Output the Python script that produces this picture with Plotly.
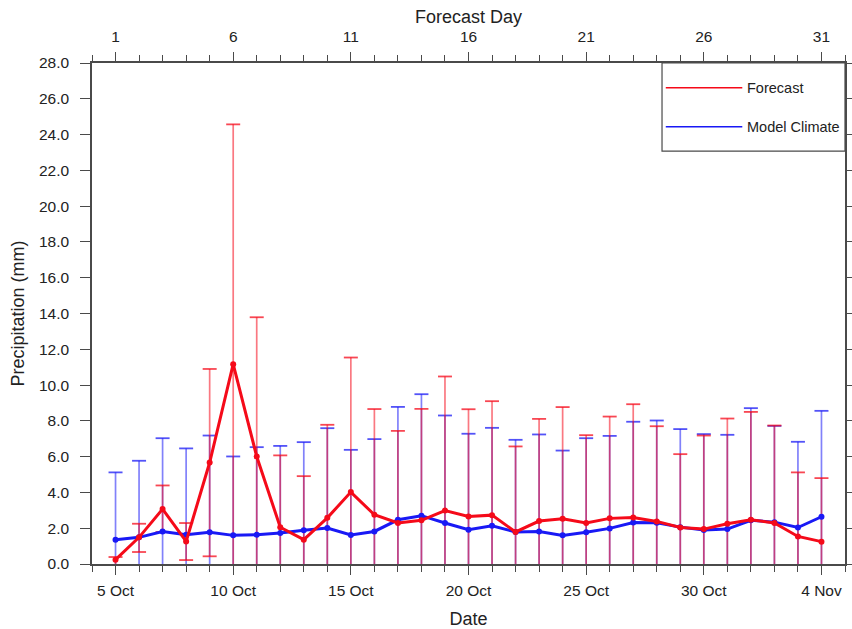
import plotly.graph_objects as go

# Forecast day index (1 = 5 Oct)
days = list(range(1, 32))

# Axis tick labels
date_ticks = [1, 6, 11, 16, 21, 26, 31]
date_labels = ["5 Oct", "10 Oct", "15 Oct", "20 Oct", "25 Oct", "30 Oct", "4 Nov"]
fday_labels = ["1", "6", "11", "16", "21", "26", "31"]
y_ticks = [0, 2, 4, 6, 8, 10, 12, 14, 16, 18, 20, 22, 24, 26, 28]

# Forecast ensemble: mean, max, min (mm)
fc_mean = [0.24, 1.49, 3.07, 1.26, 5.67, 11.17, 6.01, 2.05, 1.36, 2.58,
           4.02, 2.75, 2.29, 2.44, 2.99, 2.66, 2.73, 1.79, 2.40, 2.53,
           2.29, 2.55, 2.60, 2.38, 2.04, 1.95, 2.25, 2.47, 2.29, 1.54, 1.25]
fc_max = [0.39, 2.25, 4.39, 2.29, 10.90, 24.57, 13.79, 6.07, 4.91, 7.78,
          11.54, 8.66, 7.44, 8.67, 10.48, 8.65, 9.10, 6.57, 8.11, 8.77,
          7.20, 8.24, 8.93, 7.70, 6.14, 7.18, 8.13, 8.50, 7.74, 5.12, 4.80]
fc_min = [0.00, 0.67, 1.79, 0.22, 0.43, 0.00, 0.00, 0.00, 0.00, 0.00,
          0.00, 0.00, 0.00, 0.00, 0.00, 0.00, 0.00, 0.00, 0.00, 0.00,
          0.00, 0.00, 0.00, 0.00, 0.00, 0.00, 0.00, 0.00, 0.00, 0.00, 0.00]

# Model climate: mean, max, min (mm)
cl_mean = [1.36, 1.49, 1.82, 1.64, 1.77, 1.60, 1.64, 1.73, 1.88, 2.01,
           1.62, 1.82, 2.47, 2.70, 2.29, 1.92, 2.14, 1.79, 1.82, 1.60,
           1.77, 1.99, 2.32, 2.30, 2.06, 1.90, 1.95, 2.44, 2.34, 2.04, 2.64]
cl_max = [5.12, 5.77, 7.03, 6.46, 7.18, 6.01, 6.53, 6.60, 6.81, 7.59,
          6.38, 6.98, 8.78, 9.49, 8.30, 7.28, 7.61, 6.94, 7.24, 6.34,
          7.03, 7.16, 7.95, 8.02, 7.54, 7.26, 7.22, 8.71, 7.72, 6.83, 8.56]
cl_min = [0.0] * 31

RED = "rgb(245,10,25)"
BLUE = "rgb(25,25,245)"
RED_BAR = "rgba(245,10,25,0.55)"
BLUE_BAR = "rgba(25,25,245,0.55)"
RED_CAP = "rgba(245,10,25,0.75)"
BLUE_CAP = "rgba(25,25,245,0.75)"
AXIS = "#4a4a4a"
FONT = "Liberation Sans, Arial, Helvetica, sans-serif"


def range_traces(lo, hi, color, cap_color):
    """Vertical min-max whiskers with caps (no cap where the minimum is 0)."""
    xs, ys = [], []
    for d, a, b in zip(days, lo, hi):
        xs += [d, d, None]
        ys += [a, b, None]
    stems = go.Scatter(x=xs, y=ys, mode="lines",
                       line=dict(color=color, width=1.7),
                       hoverinfo="skip", showlegend=False)
    cap_x = list(days) + [d for d, a in zip(days, lo) if a > 0]
    cap_y = list(hi) + [a for a in lo if a > 0]
    caps = go.Scatter(x=cap_x, y=cap_y, mode="markers",
                      marker=dict(symbol="line-ew", size=10,
                                  line=dict(color=cap_color, width=1.8)),
                      hoverinfo="skip", showlegend=False)
    return [stems, caps]


fig = go.Figure()

# Range whiskers first, so both mean lines sit above them
for tr in range_traces(cl_min, cl_max, BLUE_BAR, BLUE_CAP):
    fig.add_trace(tr)
for tr in range_traces(fc_min, fc_max, RED_BAR, RED_CAP):
    fig.add_trace(tr)

# Mean lines
fig.add_trace(go.Scatter(
    x=days, y=cl_mean, mode="lines+markers", name="Model Climate",
    line=dict(color=BLUE, width=3), marker=dict(color=BLUE, size=6),
    showlegend=False))
fig.add_trace(go.Scatter(
    x=days, y=fc_mean, mode="lines+markers", name="Forecast",
    line=dict(color=RED, width=3), marker=dict(color=RED, size=6),
    showlegend=False))

# Carrier for the top "Forecast Day" axis
fig.add_trace(go.Scatter(x=days, y=fc_mean, xaxis="x2", mode="none",
                         hoverinfo="skip", showlegend=False))

tick_font = dict(family=FONT, size=15.5, color="#222222")
title_font = dict(family=FONT, size=18, color="#222222")

common_x = dict(
    range=[0, 32], showgrid=False, zeroline=False, automargin=False,
    showline=True, linecolor=AXIS, linewidth=1.6,
    ticks="outside", ticklen=9, tickwidth=1.4, tickcolor=AXIS,
    minor=dict(ticks="outside", ticklen=6, tickwidth=1, tickcolor=AXIS,
               dtick=1, tick0=0, showgrid=False),
    tickfont=tick_font,
)

fig.update_layout(
    template="none",
    width=852, height=629,
    margin=dict(l=92, r=7, t=63, b=65, autoexpand=False),
    paper_bgcolor="white", plot_bgcolor="white",
    font=dict(family=FONT, color="#222222"),
    showlegend=False,
    xaxis=dict(
        **common_x, tickmode="array", tickvals=date_ticks, ticktext=date_labels,
        mirror=True, ticklabelstandoff=3,
        title=dict(text="Date", font=title_font, standoff=14),
    ),
    xaxis2=dict(
        **common_x, overlaying="x", side="top", anchor="y",
        tickmode="array", tickvals=date_ticks, ticktext=fday_labels,
        ticklabelstandoff=4,
        title=dict(text="Forecast Day", font=title_font, standoff=0),
    ),
    yaxis=dict(
        range=[0, 28], tickmode="array", tickvals=y_ticks, tickformat=".1f",
        showgrid=False, zeroline=False, showline=True, linecolor=AXIS,
        linewidth=1.6, mirror="ticks", ticks="outside", ticklen=10,
        tickwidth=1.4, tickcolor=AXIS, tickfont=tick_font, ticklabelstandoff=8,
        automargin=False,
        title=dict(text="Precipitation (mm)", font=title_font, standoff=10),
    ),
)

# Legend box in the upper-right corner of the plot area
lx0, lx1 = 0.757, 1.0
ly0, ly1 = 0.824, 1.0
fig.add_shape(type="rect", xref="paper", yref="paper",
              x0=lx0, x1=lx1, y0=ly0, y1=ly1,
              line=dict(color=AXIS, width=1.2), fillcolor="white", layer="above")
legend_rows = [("Forecast", RED, 0.9507), ("Model Climate", BLUE, 0.8729)]
for label, color, yy in legend_rows:
    fig.add_shape(type="line", xref="paper", yref="paper",
                  x0=0.762, x1=0.8636, y0=yy, y1=yy,
                  line=dict(color=color, width=1.6), layer="above")
    fig.add_annotation(x=0.8693, y=yy, xref="paper", yref="paper",
                       text=label, showarrow=False, xanchor="left",
                       yanchor="middle", xshift=-2,
                       font=dict(family=FONT, size=14.5, color="#222222"))

fig.write_html("out.html")
